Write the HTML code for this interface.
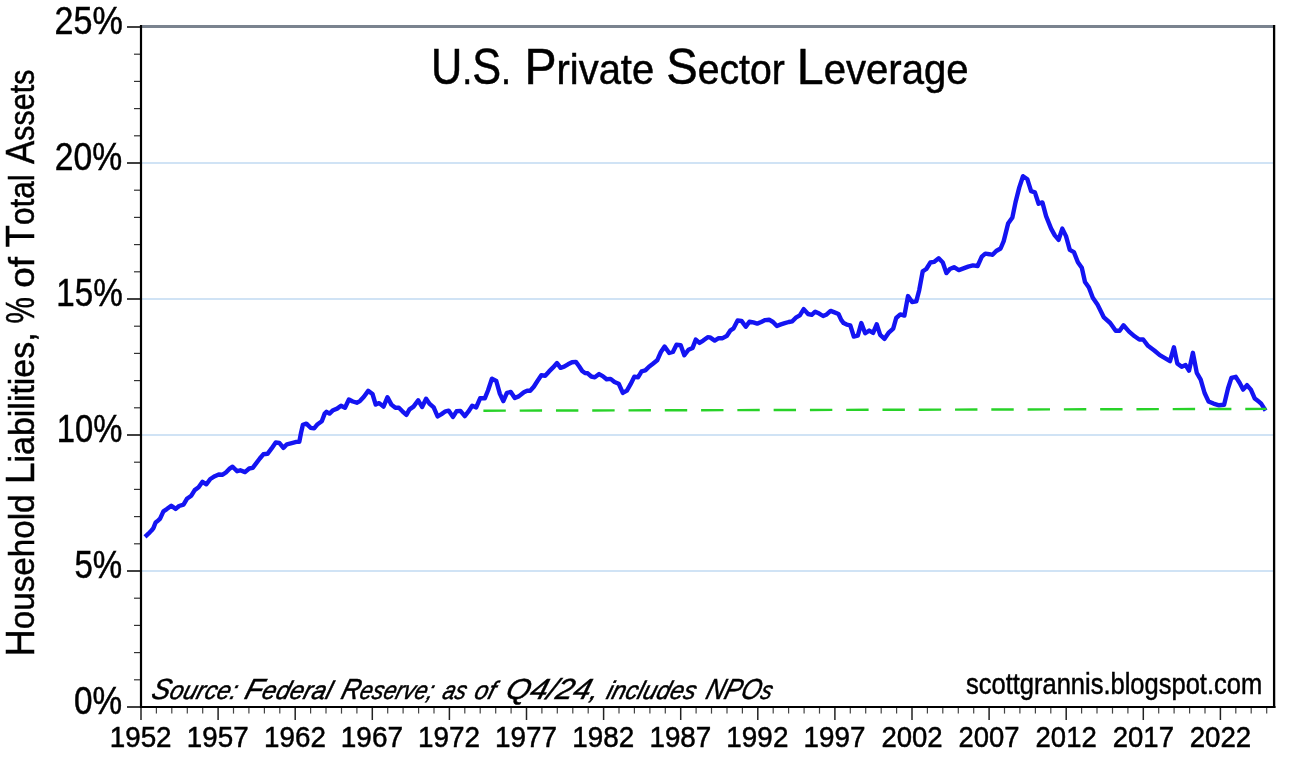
<!DOCTYPE html>
<html><head><meta charset="utf-8"><title>U.S. Private Sector Leverage</title>
<style>
html,body{margin:0;padding:0;background:#fff;}
body{width:1292px;height:762px;overflow:hidden;}
svg{display:block;}
text{font-family:"Liberation Sans",Arial,sans-serif;fill:#000;stroke:#000;stroke-width:0.5px;}
.src{font-style:italic;}
</style></head>
<body>
<svg width="1292" height="762" viewBox="0 0 1292 762">
<rect width="1292" height="762" fill="#fff"/>
<line x1="142" y1="571.0" x2="1273" y2="571.0" stroke="#c0daf2" stroke-width="1.5"/>
<line x1="142" y1="435.0" x2="1273" y2="435.0" stroke="#c0daf2" stroke-width="1.5"/>
<line x1="142" y1="299.0" x2="1273" y2="299.0" stroke="#c0daf2" stroke-width="1.5"/>
<line x1="142" y1="163.0" x2="1273" y2="163.0" stroke="#c0daf2" stroke-width="1.5"/>
<line x1="141" y1="26.5" x2="1275" y2="26.5" stroke="#7a838f" stroke-width="3"/>
<line x1="127" y1="707.0" x2="141" y2="707.0" stroke="#111" stroke-width="1.6"/>
<line x1="134" y1="679.8" x2="141" y2="679.8" stroke="#333" stroke-width="1.2"/>
<line x1="134" y1="652.6" x2="141" y2="652.6" stroke="#333" stroke-width="1.2"/>
<line x1="134" y1="625.4" x2="141" y2="625.4" stroke="#333" stroke-width="1.2"/>
<line x1="134" y1="598.2" x2="141" y2="598.2" stroke="#333" stroke-width="1.2"/>
<line x1="127" y1="571.0" x2="141" y2="571.0" stroke="#111" stroke-width="1.6"/>
<line x1="134" y1="543.8" x2="141" y2="543.8" stroke="#333" stroke-width="1.2"/>
<line x1="134" y1="516.6" x2="141" y2="516.6" stroke="#333" stroke-width="1.2"/>
<line x1="134" y1="489.4" x2="141" y2="489.4" stroke="#333" stroke-width="1.2"/>
<line x1="134" y1="462.2" x2="141" y2="462.2" stroke="#333" stroke-width="1.2"/>
<line x1="127" y1="435.0" x2="141" y2="435.0" stroke="#111" stroke-width="1.6"/>
<line x1="134" y1="407.8" x2="141" y2="407.8" stroke="#333" stroke-width="1.2"/>
<line x1="134" y1="380.6" x2="141" y2="380.6" stroke="#333" stroke-width="1.2"/>
<line x1="134" y1="353.4" x2="141" y2="353.4" stroke="#333" stroke-width="1.2"/>
<line x1="134" y1="326.2" x2="141" y2="326.2" stroke="#333" stroke-width="1.2"/>
<line x1="127" y1="299.0" x2="141" y2="299.0" stroke="#111" stroke-width="1.6"/>
<line x1="134" y1="271.8" x2="141" y2="271.8" stroke="#333" stroke-width="1.2"/>
<line x1="134" y1="244.6" x2="141" y2="244.6" stroke="#333" stroke-width="1.2"/>
<line x1="134" y1="217.4" x2="141" y2="217.4" stroke="#333" stroke-width="1.2"/>
<line x1="134" y1="190.2" x2="141" y2="190.2" stroke="#333" stroke-width="1.2"/>
<line x1="127" y1="163.0" x2="141" y2="163.0" stroke="#111" stroke-width="1.6"/>
<line x1="134" y1="135.8" x2="141" y2="135.8" stroke="#333" stroke-width="1.2"/>
<line x1="134" y1="108.6" x2="141" y2="108.6" stroke="#333" stroke-width="1.2"/>
<line x1="134" y1="81.4" x2="141" y2="81.4" stroke="#333" stroke-width="1.2"/>
<line x1="134" y1="54.2" x2="141" y2="54.2" stroke="#333" stroke-width="1.2"/>
<line x1="127" y1="27.0" x2="141" y2="27.0" stroke="#111" stroke-width="1.6"/>
<line x1="141.0" y1="707" x2="141.0" y2="720" stroke="#222" stroke-width="1.5"/>
<line x1="156.4" y1="707" x2="156.4" y2="713.6" stroke="#444" stroke-width="1.2"/>
<line x1="171.8" y1="707" x2="171.8" y2="713.6" stroke="#444" stroke-width="1.2"/>
<line x1="187.3" y1="707" x2="187.3" y2="713.6" stroke="#444" stroke-width="1.2"/>
<line x1="202.7" y1="707" x2="202.7" y2="713.6" stroke="#444" stroke-width="1.2"/>
<line x1="218.1" y1="707" x2="218.1" y2="720" stroke="#222" stroke-width="1.5"/>
<line x1="233.5" y1="707" x2="233.5" y2="713.6" stroke="#444" stroke-width="1.2"/>
<line x1="248.9" y1="707" x2="248.9" y2="713.6" stroke="#444" stroke-width="1.2"/>
<line x1="264.4" y1="707" x2="264.4" y2="713.6" stroke="#444" stroke-width="1.2"/>
<line x1="279.8" y1="707" x2="279.8" y2="713.6" stroke="#444" stroke-width="1.2"/>
<line x1="295.2" y1="707" x2="295.2" y2="720" stroke="#222" stroke-width="1.5"/>
<line x1="310.6" y1="707" x2="310.6" y2="713.6" stroke="#444" stroke-width="1.2"/>
<line x1="326.0" y1="707" x2="326.0" y2="713.6" stroke="#444" stroke-width="1.2"/>
<line x1="341.5" y1="707" x2="341.5" y2="713.6" stroke="#444" stroke-width="1.2"/>
<line x1="356.9" y1="707" x2="356.9" y2="713.6" stroke="#444" stroke-width="1.2"/>
<line x1="372.3" y1="707" x2="372.3" y2="720" stroke="#222" stroke-width="1.5"/>
<line x1="387.7" y1="707" x2="387.7" y2="713.6" stroke="#444" stroke-width="1.2"/>
<line x1="403.1" y1="707" x2="403.1" y2="713.6" stroke="#444" stroke-width="1.2"/>
<line x1="418.6" y1="707" x2="418.6" y2="713.6" stroke="#444" stroke-width="1.2"/>
<line x1="434.0" y1="707" x2="434.0" y2="713.6" stroke="#444" stroke-width="1.2"/>
<line x1="449.4" y1="707" x2="449.4" y2="720" stroke="#222" stroke-width="1.5"/>
<line x1="464.8" y1="707" x2="464.8" y2="713.6" stroke="#444" stroke-width="1.2"/>
<line x1="480.2" y1="707" x2="480.2" y2="713.6" stroke="#444" stroke-width="1.2"/>
<line x1="495.7" y1="707" x2="495.7" y2="713.6" stroke="#444" stroke-width="1.2"/>
<line x1="511.1" y1="707" x2="511.1" y2="713.6" stroke="#444" stroke-width="1.2"/>
<line x1="526.5" y1="707" x2="526.5" y2="720" stroke="#222" stroke-width="1.5"/>
<line x1="541.9" y1="707" x2="541.9" y2="713.6" stroke="#444" stroke-width="1.2"/>
<line x1="557.3" y1="707" x2="557.3" y2="713.6" stroke="#444" stroke-width="1.2"/>
<line x1="572.8" y1="707" x2="572.8" y2="713.6" stroke="#444" stroke-width="1.2"/>
<line x1="588.2" y1="707" x2="588.2" y2="713.6" stroke="#444" stroke-width="1.2"/>
<line x1="603.6" y1="707" x2="603.6" y2="720" stroke="#222" stroke-width="1.5"/>
<line x1="619.0" y1="707" x2="619.0" y2="713.6" stroke="#444" stroke-width="1.2"/>
<line x1="634.4" y1="707" x2="634.4" y2="713.6" stroke="#444" stroke-width="1.2"/>
<line x1="649.9" y1="707" x2="649.9" y2="713.6" stroke="#444" stroke-width="1.2"/>
<line x1="665.3" y1="707" x2="665.3" y2="713.6" stroke="#444" stroke-width="1.2"/>
<line x1="680.7" y1="707" x2="680.7" y2="720" stroke="#222" stroke-width="1.5"/>
<line x1="696.1" y1="707" x2="696.1" y2="713.6" stroke="#444" stroke-width="1.2"/>
<line x1="711.5" y1="707" x2="711.5" y2="713.6" stroke="#444" stroke-width="1.2"/>
<line x1="727.0" y1="707" x2="727.0" y2="713.6" stroke="#444" stroke-width="1.2"/>
<line x1="742.4" y1="707" x2="742.4" y2="713.6" stroke="#444" stroke-width="1.2"/>
<line x1="757.8" y1="707" x2="757.8" y2="720" stroke="#222" stroke-width="1.5"/>
<line x1="773.2" y1="707" x2="773.2" y2="713.6" stroke="#444" stroke-width="1.2"/>
<line x1="788.6" y1="707" x2="788.6" y2="713.6" stroke="#444" stroke-width="1.2"/>
<line x1="804.1" y1="707" x2="804.1" y2="713.6" stroke="#444" stroke-width="1.2"/>
<line x1="819.5" y1="707" x2="819.5" y2="713.6" stroke="#444" stroke-width="1.2"/>
<line x1="834.9" y1="707" x2="834.9" y2="720" stroke="#222" stroke-width="1.5"/>
<line x1="850.3" y1="707" x2="850.3" y2="713.6" stroke="#444" stroke-width="1.2"/>
<line x1="865.7" y1="707" x2="865.7" y2="713.6" stroke="#444" stroke-width="1.2"/>
<line x1="881.2" y1="707" x2="881.2" y2="713.6" stroke="#444" stroke-width="1.2"/>
<line x1="896.6" y1="707" x2="896.6" y2="713.6" stroke="#444" stroke-width="1.2"/>
<line x1="912.0" y1="707" x2="912.0" y2="720" stroke="#222" stroke-width="1.5"/>
<line x1="927.4" y1="707" x2="927.4" y2="713.6" stroke="#444" stroke-width="1.2"/>
<line x1="942.8" y1="707" x2="942.8" y2="713.6" stroke="#444" stroke-width="1.2"/>
<line x1="958.3" y1="707" x2="958.3" y2="713.6" stroke="#444" stroke-width="1.2"/>
<line x1="973.7" y1="707" x2="973.7" y2="713.6" stroke="#444" stroke-width="1.2"/>
<line x1="989.1" y1="707" x2="989.1" y2="720" stroke="#222" stroke-width="1.5"/>
<line x1="1004.5" y1="707" x2="1004.5" y2="713.6" stroke="#444" stroke-width="1.2"/>
<line x1="1019.9" y1="707" x2="1019.9" y2="713.6" stroke="#444" stroke-width="1.2"/>
<line x1="1035.4" y1="707" x2="1035.4" y2="713.6" stroke="#444" stroke-width="1.2"/>
<line x1="1050.8" y1="707" x2="1050.8" y2="713.6" stroke="#444" stroke-width="1.2"/>
<line x1="1066.2" y1="707" x2="1066.2" y2="720" stroke="#222" stroke-width="1.5"/>
<line x1="1081.6" y1="707" x2="1081.6" y2="713.6" stroke="#444" stroke-width="1.2"/>
<line x1="1097.0" y1="707" x2="1097.0" y2="713.6" stroke="#444" stroke-width="1.2"/>
<line x1="1112.5" y1="707" x2="1112.5" y2="713.6" stroke="#444" stroke-width="1.2"/>
<line x1="1127.9" y1="707" x2="1127.9" y2="713.6" stroke="#444" stroke-width="1.2"/>
<line x1="1143.3" y1="707" x2="1143.3" y2="720" stroke="#222" stroke-width="1.5"/>
<line x1="1158.7" y1="707" x2="1158.7" y2="713.6" stroke="#444" stroke-width="1.2"/>
<line x1="1174.1" y1="707" x2="1174.1" y2="713.6" stroke="#444" stroke-width="1.2"/>
<line x1="1189.6" y1="707" x2="1189.6" y2="713.6" stroke="#444" stroke-width="1.2"/>
<line x1="1205.0" y1="707" x2="1205.0" y2="713.6" stroke="#444" stroke-width="1.2"/>
<line x1="1220.4" y1="707" x2="1220.4" y2="720" stroke="#222" stroke-width="1.5"/>
<line x1="1235.8" y1="707" x2="1235.8" y2="713.6" stroke="#444" stroke-width="1.2"/>
<line x1="1251.2" y1="707" x2="1251.2" y2="713.6" stroke="#444" stroke-width="1.2"/>
<line x1="1266.7" y1="707" x2="1266.7" y2="713.6" stroke="#444" stroke-width="1.2"/>
<polyline points="145.0,536.8 148.4,533.7 151.7,530.3 153.4,528.1 155.6,522.5 157.9,520.8 160.1,518.6 163.4,511.3 166.8,509.1 171.3,505.8 175.7,508.9 179.1,506.0 183.5,504.6 186.9,498.8 191.3,495.7 194.7,490.1 198.6,487.3 202.5,481.8 206.4,484.3 210.3,479.0 214.8,476.2 218.7,474.5 222.6,474.7 225.9,472.5 229.3,468.9 232.6,466.7 237.1,471.2 240.3,470.3 245.0,472.1 249.2,468.5 252.7,467.9 256.3,463.2 259.8,458.5 263.3,454.3 267.5,453.8 271.6,448.4 275.7,442.5 279.3,442.9 283.4,447.9 286.9,444.3 291.7,443.1 296.4,441.9 299.3,441.9 301.1,432.5 302.9,424.8 306.4,423.6 310.6,427.8 314.1,428.4 317.6,424.2 321.8,421.3 324.7,413.6 326.5,411.8 329.5,413.6 333.1,410.2 337.1,408.6 341.0,405.8 345.0,407.8 348.9,399.5 352.8,401.5 356.8,402.7 359.9,401.1 363.9,396.8 368.2,390.9 372.5,394.0 375.7,404.6 379.2,403.1 383.5,406.6 387.5,397.2 391.4,404.6 395.4,407.8 398.9,407.8 402.4,411.3 406.4,414.9 409.5,409.4 413.5,406.6 418.2,400.3 422.1,407.0 426.1,398.7 429.7,403.9 433.7,407.4 437.6,416.5 441.5,414.1 445.5,411.3 448.6,410.6 453.0,416.9 456.5,411.3 460.4,410.9 464.8,416.1 468.3,411.7 472.2,405.8 476.2,407.4 480.1,398.3 484.8,398.3 488.0,390.5 491.9,378.7 496.3,381.0 499.8,393.6 503.3,401.1 506.9,392.8 510.8,392.0 514.8,398.0 518.7,396.4 523.9,392.2 527.1,390.7 530.2,390.7 533.8,386.7 537.3,381.2 541.3,375.3 545.2,375.7 549.1,371.4 553.1,367.4 557.0,363.1 560.6,367.8 564.1,366.7 568.0,364.3 572.0,362.3 575.9,361.9 579.1,366.3 582.2,371.0 585.0,373.0 587.7,373.3 591.3,376.5 594.8,377.3 599.1,374.1 602.7,376.1 606.6,379.3 610.6,378.9 614.5,382.0 618.7,383.7 622.8,392.9 626.9,390.6 630.6,384.2 634.3,376.8 638.0,377.3 641.6,371.3 645.3,370.4 649.0,366.7 652.6,364.0 657.2,360.3 660.9,352.0 664.6,346.5 669.2,353.0 672.9,352.0 676.5,344.7 680.7,345.2 684.3,355.3 688.5,349.7 692.6,347.9 695.8,339.6 699.5,342.9 703.2,340.6 707.7,337.3 710.0,337.4 714.7,340.6 718.7,338.2 722.6,338.2 726.9,335.8 730.5,330.3 733.6,328.3 737.6,320.5 741.5,320.9 745.8,326.8 749.4,321.7 753.3,322.4 757.2,323.6 761.2,322.0 765.1,320.1 769.1,319.7 773.0,322.0 776.9,326.0 780.9,324.4 784.8,323.2 788.7,322.0 792.3,321.3 795.8,317.7 799.8,315.4 803.7,309.1 808.1,314.0 811.7,314.8 815.2,311.7 819.2,313.6 823.1,316.0 826.7,314.4 830.6,310.9 834.5,312.4 838.5,314.0 841.2,319.9 843.6,323.1 846.7,324.6 850.3,325.4 853.8,336.5 857.8,335.7 861.3,323.1 865.2,333.3 869.2,330.6 873.1,332.9 876.7,324.3 880.2,334.9 884.5,338.8 888.5,332.9 893.2,328.6 896.2,318.0 900.3,314.4 904.4,315.6 908.0,296.1 912.1,302.0 916.3,301.4 919.2,290.2 922.7,271.3 926.3,269.0 930.4,262.5 934.0,261.9 938.7,258.3 942.8,262.5 946.4,273.1 949.9,269.0 954.0,267.2 958.8,270.1 963.5,268.4 968.2,266.6 972.9,265.4 977.6,266.0 981.8,256.6 985.3,253.6 989.5,254.2 992.5,254.8 996.2,251.0 1000.6,248.5 1003.7,241.1 1008.1,223.6 1012.4,217.4 1015.5,202.4 1019.3,187.4 1023.0,176.2 1027.4,179.3 1031.1,191.2 1034.9,192.4 1038.6,203.7 1042.4,202.4 1046.1,216.1 1051.1,228.6 1054.8,235.4 1058.6,239.8 1062.3,228.6 1066.0,236.1 1069.8,249.8 1073.9,252.1 1077.9,262.3 1081.8,267.8 1085.0,282.0 1088.9,287.5 1092.8,297.8 1097.6,304.8 1103.9,317.4 1110.2,323.0 1115.7,330.8 1119.6,330.8 1123.5,325.3 1129.1,331.6 1134.6,336.3 1139.3,339.5 1143.2,339.5 1148.0,345.8 1154.3,350.5 1159.8,355.2 1164.5,357.9 1170.0,361.2 1173.9,347.3 1177.3,363.4 1181.7,366.8 1185.6,365.1 1189.0,370.7 1192.9,352.8 1196.8,372.9 1200.7,379.6 1204.6,393.0 1208.5,401.4 1213.5,403.6 1219.1,405.3 1224.1,404.7 1228.0,388.5 1231.4,377.9 1235.8,376.8 1239.7,383.0 1243.1,389.6 1247.0,385.2 1250.9,389.6 1254.8,398.6 1258.7,401.6 1261.0,403.4 1265.6,410.6" fill="none" stroke="#1414f2" stroke-width="4.4" stroke-linejoin="round" stroke-linecap="butt"/>
<line x1="483.4" y1="410.7" x2="1266.5" y2="408.9" stroke="#28d228" stroke-width="2.4" stroke-dasharray="22.4 13.88"/>
<line x1="141" y1="25" x2="141" y2="708" stroke="#000" stroke-width="2.2"/>
<line x1="140" y1="707" x2="1275.5" y2="707" stroke="#000" stroke-width="2.2"/>
<line x1="1274.1" y1="25" x2="1274.1" y2="708" stroke="#000" stroke-width="2.3"/>
<text x="54.51" y="33.70" style="font-size:39.30px" class="yl" textLength="68.26" lengthAdjust="spacingAndGlyphs">25%</text>
<text x="54.76" y="169.70" style="font-size:39.30px" class="yl" textLength="67.46" lengthAdjust="spacingAndGlyphs">20%</text>
<text x="56.24" y="305.70" style="font-size:39.30px" class="yl" textLength="66.49" lengthAdjust="spacingAndGlyphs">15%</text>
<text x="56.71" y="441.70" style="font-size:39.30px" class="yl" textLength="65.60" lengthAdjust="spacingAndGlyphs">10%</text>
<text x="74.38" y="577.70" style="font-size:39.30px" class="yl" textLength="47.75" lengthAdjust="spacingAndGlyphs">5%</text>
<text x="74.08" y="713.70" style="font-size:39.30px" class="yl" textLength="48.10" lengthAdjust="spacingAndGlyphs">0%</text>
<text x="430.88" y="84.00" style="font-size:50.40px" class="title" textLength="80.12" lengthAdjust="spacingAndGlyphs">U<tspan style="font-size:41.83px">.</tspan>S<tspan style="font-size:41.83px">.</tspan></text>
<text x="524.49" y="84.00" style="font-size:50.40px" class="title" textLength="129.68" lengthAdjust="spacingAndGlyphs">P<tspan style="font-size:41.83px">rivate</tspan></text>
<text x="666.20" y="84.00" style="font-size:50.40px" class="title" textLength="118.53" lengthAdjust="spacingAndGlyphs">S<tspan style="font-size:41.83px">ector</tspan></text>
<text x="796.80" y="84.00" style="font-size:50.40px" class="title" textLength="171.86" lengthAdjust="spacingAndGlyphs">L<tspan style="font-size:41.83px">everage</tspan></text>
<text transform="translate(149.93,698.50) skewX(-16)" style="font-size:29.00px" class="src" textLength="85.43" lengthAdjust="spacingAndGlyphs">S<tspan style="font-size:25.52px">ource:</tspan></text>
<text transform="translate(243.32,698.50) skewX(-16)" style="font-size:29.00px" class="src" textLength="86.36" lengthAdjust="spacingAndGlyphs">F<tspan style="font-size:25.52px">ederal</tspan></text>
<text transform="translate(339.87,698.50) skewX(-16)" style="font-size:29.00px" class="src" textLength="91.80" lengthAdjust="spacingAndGlyphs">R<tspan style="font-size:25.52px">eserve;</tspan></text>
<text transform="translate(441.34,698.50) skewX(-16)" style="font-size:29.00px" class="src" textLength="23.13" lengthAdjust="spacingAndGlyphs"><tspan style="font-size:25.52px">as</tspan></text>
<text transform="translate(472.98,698.50) skewX(-16)" style="font-size:29.00px" class="src" textLength="20.10" lengthAdjust="spacingAndGlyphs"><tspan style="font-size:25.52px">of</tspan></text>
<text transform="translate(504.26,698.50) skewX(-16)" style="font-size:29.00px" class="src" textLength="92.09" lengthAdjust="spacingAndGlyphs">Q4/24<tspan style="font-size:25.52px">,</tspan></text>
<text transform="translate(605.16,698.50) skewX(-16)" style="font-size:29.00px" class="src" textLength="88.85" lengthAdjust="spacingAndGlyphs"><tspan style="font-size:25.52px">includes</tspan></text>
<text transform="translate(704.56,698.50) skewX(-16)" style="font-size:29.00px" class="src" textLength="65.67" lengthAdjust="spacingAndGlyphs">NPO<tspan style="font-size:25.52px">s</tspan></text>
<text x="966.01" y="694.10" style="font-size:29.50px" class="blog" textLength="296.16" lengthAdjust="spacingAndGlyphs">scottgrannis.blogspot.com</text>
<text transform="translate(33.80,656.73) rotate(-90)" style="font-size:40.50px" class="ytitle" textLength="162.32" lengthAdjust="spacingAndGlyphs">H<tspan style="font-size:35.23px">ousehold</tspan></text>
<text transform="translate(33.80,484.15) rotate(-90)" style="font-size:40.50px" class="ytitle" textLength="151.80" lengthAdjust="spacingAndGlyphs">L<tspan style="font-size:35.23px">iabilities,</tspan></text>
<text transform="translate(33.80,323.38) rotate(-90)" style="font-size:40.50px" class="ytitle" textLength="26.48" lengthAdjust="spacingAndGlyphs">%</text>
<text transform="translate(33.80,287.81) rotate(-90)" style="font-size:40.50px" class="ytitle" textLength="30.88" lengthAdjust="spacingAndGlyphs"><tspan style="font-size:35.23px">of</tspan></text>
<text transform="translate(33.80,247.20) rotate(-90)" style="font-size:40.50px" class="ytitle" textLength="72.90" lengthAdjust="spacingAndGlyphs">T<tspan style="font-size:35.23px">otal</tspan></text>
<text transform="translate(33.80,163.99) rotate(-90)" style="font-size:40.50px" class="ytitle" textLength="94.36" lengthAdjust="spacingAndGlyphs">A<tspan style="font-size:35.23px">ssets</tspan></text>
<text x="109.72" y="747.20" style="font-size:29.80px" class="xl" textLength="61.87" lengthAdjust="spacingAndGlyphs">1952</text>
<text x="186.83" y="747.20" style="font-size:29.80px" class="xl" textLength="61.77" lengthAdjust="spacingAndGlyphs">1957</text>
<text x="264.00" y="747.20" style="font-size:29.80px" class="xl" textLength="61.86" lengthAdjust="spacingAndGlyphs">1962</text>
<text x="340.81" y="747.20" style="font-size:29.80px" class="xl" textLength="62.19" lengthAdjust="spacingAndGlyphs">1967</text>
<text x="417.99" y="747.20" style="font-size:29.80px" class="xl" textLength="62.10" lengthAdjust="spacingAndGlyphs">1972</text>
<text x="495.05" y="747.20" style="font-size:29.80px" class="xl" textLength="62.06" lengthAdjust="spacingAndGlyphs">1977</text>
<text x="572.27" y="747.20" style="font-size:29.80px" class="xl" textLength="61.98" lengthAdjust="spacingAndGlyphs">1982</text>
<text x="649.40" y="747.20" style="font-size:29.80px" class="xl" textLength="61.97" lengthAdjust="spacingAndGlyphs">1987</text>
<text x="726.36" y="747.20" style="font-size:29.80px" class="xl" textLength="62.04" lengthAdjust="spacingAndGlyphs">1992</text>
<text x="803.61" y="747.20" style="font-size:29.80px" class="xl" textLength="61.98" lengthAdjust="spacingAndGlyphs">1997</text>
<text x="881.41" y="747.20" style="font-size:29.80px" class="xl" textLength="61.22" lengthAdjust="spacingAndGlyphs">2002</text>
<text x="958.60" y="747.20" style="font-size:29.80px" class="xl" textLength="61.02" lengthAdjust="spacingAndGlyphs">2007</text>
<text x="1035.57" y="747.20" style="font-size:29.80px" class="xl" textLength="61.20" lengthAdjust="spacingAndGlyphs">2012</text>
<text x="1112.75" y="747.20" style="font-size:29.80px" class="xl" textLength="61.21" lengthAdjust="spacingAndGlyphs">2017</text>
<text x="1189.65" y="747.20" style="font-size:29.80px" class="xl" textLength="61.54" lengthAdjust="spacingAndGlyphs">2022</text>
</svg>
</body></html>
